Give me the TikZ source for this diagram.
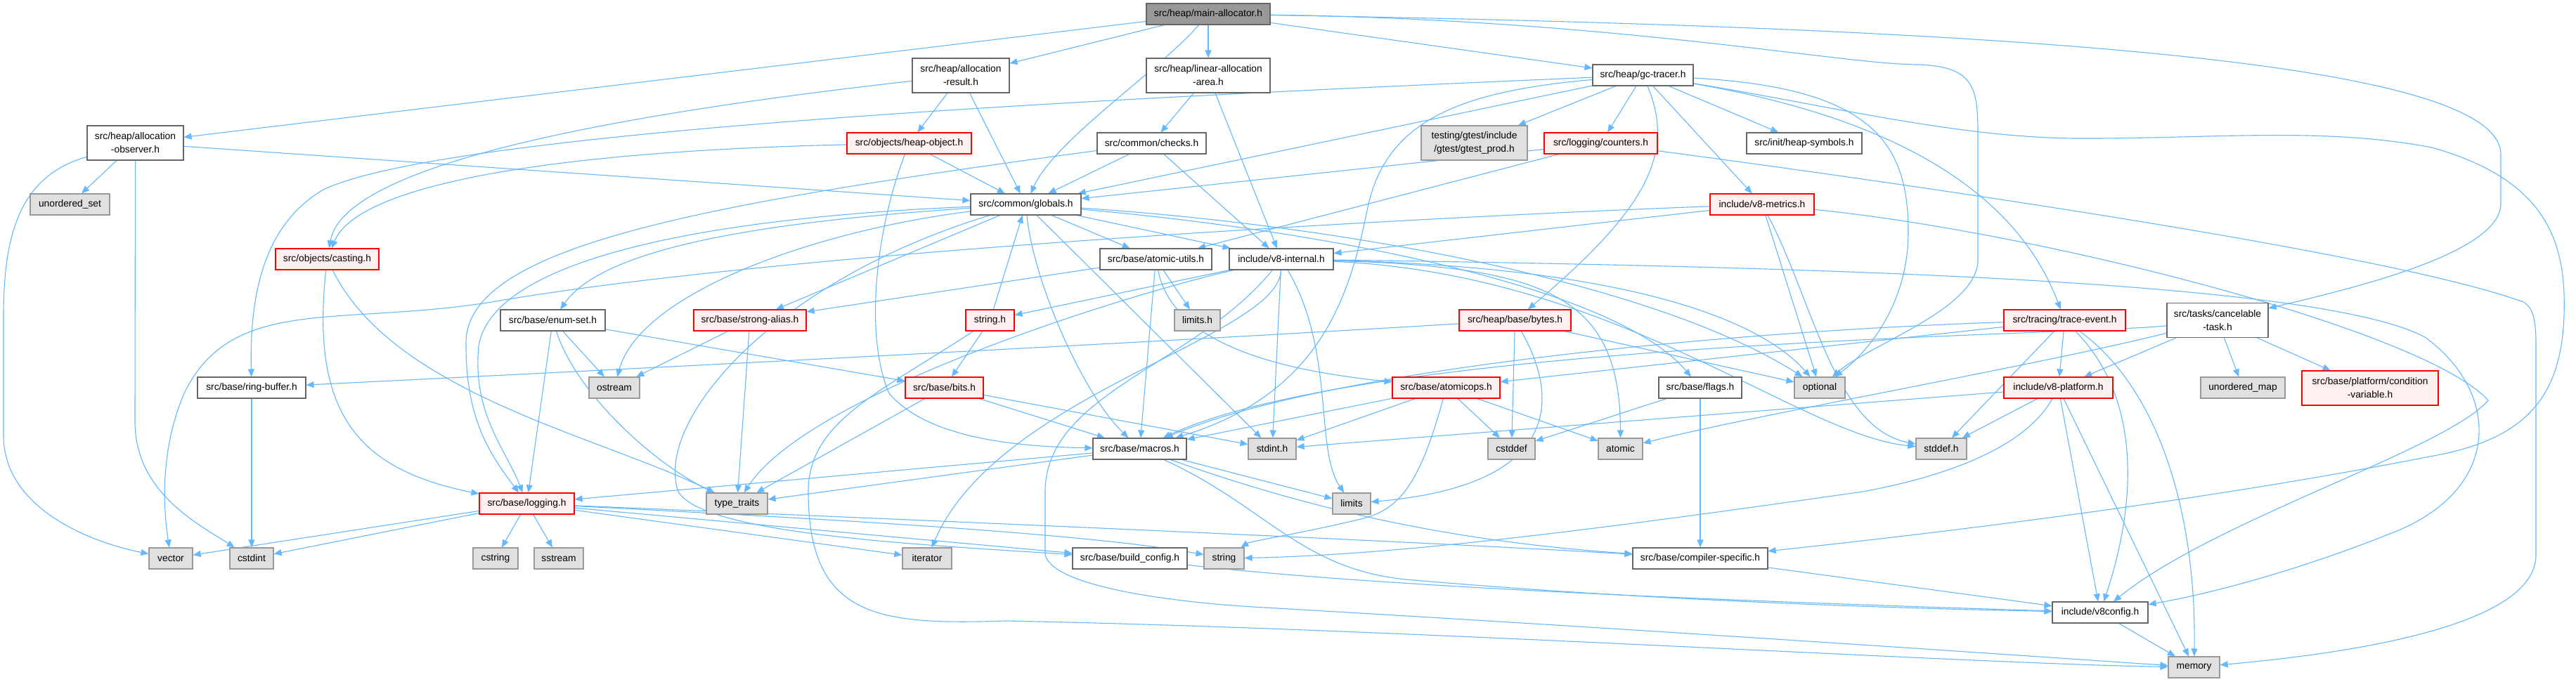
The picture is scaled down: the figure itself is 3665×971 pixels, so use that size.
\documentclass[tikz,border=0pt]{standalone}
\usepackage{fontspec}
\setmainfont{Liberation Sans}
\usetikzlibrary{arrows.meta, backgrounds}
\definecolor{edgeblue}{HTML}{63B8FF}
\definecolor{boxgrey}{HTML}{666666}
\definecolor{sysgrey}{HTML}{999999}
\definecolor{sysfill}{HTML}{E0E0E0}
\definecolor{hdrred}{HTML}{FF0000}
\definecolor{hdrfill}{HTML}{FFF0F0}
\definecolor{mainfill}{HTML}{999999}

\begin{document}
\begin{tikzpicture}[x=1pt, y=-1pt,
  font=\fontsize{13.8pt}{19pt}\selectfont,
  hdr/.style={rectangle, draw=boxgrey, fill=white, line width=1.1pt,
              minimum height=30pt, inner sep=2pt, align=center},
  sys/.style={hdr, draw=sysgrey, fill=sysfill},
  trunc/.style={hdr, draw=hdrred, fill=hdrfill},
  mainhdr/.style={hdr, fill=mainfill},
  twoline/.style={minimum height=49pt},
  dep/.style={-{Triangle[length=11pt,width=9pt]}, draw=edgeblue, line width=1.1pt}
]
\useasboundingbox (0,0) rectangle (3665,971);

% ── root ──
\node[mainhdr, minimum width=176pt] (ma) at (1719,20) {src/heap/main-allocator.h};

% ── upper rows ──
\node[hdr, twoline, minimum width=137pt] (aobs) at (192.5,203.5) {src/heap/allocation\\-observer.h};
\node[sys, minimum width=113pt] (uset) at (99.5,291) {unordered\_set};
\node[hdr, twoline, minimum width=138pt] (ares) at (1367,107.5) {src/heap/allocation\\-result.h};
\node[hdr, twoline, minimum width=176pt] (laa) at (1719,107.5) {src/heap/linear-allocation\\-area.h};
\node[trunc, minimum width=177pt] (hobj) at (1293.5,204) {src/objects/heap-object.h};
\node[hdr, minimum width=155pt] (checks) at (1638.5,204) {src/common/checks.h};
\node[hdr, minimum width=157pt] (glob) at (1459.5,291) {src/common/globals.h};
\node[hdr, minimum width=143pt] (gct) at (2337.5,107) {src/heap/gc-tracer.h};
\node[sys, twoline, minimum width=151pt] (gtest) at (2097.5,203.5) {testing/gtest/include\\/gtest/gtest\_prod.h};
\node[trunc, minimum width=161pt] (cnt) at (2277.5,204) {src/logging/counters.h};
\node[hdr, minimum width=164pt] (hsym) at (2567,204) {src/init/heap-symbols.h};
\node[trunc, minimum width=148pt] (metr) at (2507,291) {include/v8-metrics.h};

% ── middle rows ──
\node[trunc, minimum width=147pt] (cast) at (465.5,369) {src/objects/casting.h};
\node[hdr, minimum width=159pt] (autl) at (1644.5,369) {src/base/atomic-utils.h};
\node[hdr, minimum width=148pt] (v8i) at (1823,369) {include/v8-internal.h};
\node[hdr, minimum width=149pt] (eset) at (786.5,456) {src/base/enum-set.h};
\node[trunc, minimum width=160pt] (salias) at (1067,456) {src/base/strong-alias.h};
\node[trunc, minimum width=69pt] (strh) at (1408.5,456) {string.h};
\node[sys, minimum width=65pt] (limh) at (1703.5,456) {limits.h};
\node[trunc, minimum width=159pt] (bytes) at (2155.5,456) {src/heap/base/bytes.h};
\node[trunc, minimum width=173pt] (trev) at (2937.5,456) {src/tracing/trace-event.h};
\node[hdr, twoline, minimum width=144pt] (ctask) at (3155,456) {src/tasks/cancelable\\-task.h};
\node[hdr, minimum width=154pt] (ring) at (358,552) {src/base/ring-buffer.h};
\node[sys, minimum width=72pt] (ostr) at (874,552) {ostream};
\node[trunc, minimum width=111pt] (bits) at (1343.5,552) {src/base/bits.h};
\node[trunc, minimum width=153pt] (aops) at (2057.5,552) {src/base/atomicops.h};
\node[hdr, minimum width=118pt] (flags) at (2419,552) {src/base/flags.h};
\node[sys, minimum width=72pt] (opt) at (2589,552) {optional};
\node[trunc, minimum width=155pt] (plat) at (2928.5,552) {include/v8-platform.h};
\node[sys, minimum width=120pt] (umap) at (3191,552) {unordered\_map};
\node[trunc, twoline, minimum width=194pt] (cvar) at (3372,552.5) {src/base/platform/condition\\-variable.h};

% ── lower rows ──
\node[hdr, minimum width=133pt] (macr) at (1621.5,639) {src/base/macros.h};
\node[sys, minimum width=68pt] (stdint) at (1810,639) {stdint.h};
\node[sys, minimum width=67pt] (cstddef) at (2150.5,639) {cstddef};
\node[sys, minimum width=63pt] (atom) at (2305.5,639) {atomic};
\node[sys, minimum width=72pt] (stddef) at (2762,639) {stddef.h};
\node[trunc, minimum width=135pt] (log) at (749.5,717) {src/base/logging.h};
\node[sys, minimum width=87pt] (ttr) at (1048.5,717) {type\_traits};
\node[sys, minimum width=54pt] (lims) at (1923,717) {limits};
\node[sys, minimum width=62pt] (vec) at (243,795) {vector};
\node[sys, minimum width=62pt] (cstdint) at (358,795) {cstdint};
\node[sys, minimum width=64pt] (cstr) at (705,795) {cstring};
\node[sys, minimum width=70pt] (sstr) at (795,795) {sstream};
\node[sys, minimum width=70pt] (iter) at (1319,795) {iterator};
\node[hdr, minimum width=163pt] (bcfg) at (1607.5,795) {src/base/build\_config.h};
\node[sys, minimum width=57pt] (str) at (1741.5,795) {string};
\node[hdr, minimum width=192pt] (csp) at (2419,795) {src/base/compiler-specific.h};
\node[hdr, minimum width=136pt] (v8cfg) at (2988,872) {include/v8config.h};
\node[sys, minimum width=73pt] (mem) at (3121.5,950) {memory};

\begin{scope}[on background layer]
\fill[white] (0,0) rectangle (3665,971);

% ── main-allocator.h ──
\draw[dep] (ma) -- (aobs);
\draw[dep] (ma) -- (ares);
\draw[dep] (ma) .. controls (1650,100) and (1500,200) .. (glob);
\draw[dep] (ma) -- (laa);
\draw[dep] (ma) -- (gct);
\draw[dep] (ma) .. controls (2900,40) and (3558,90) .. (3558,220) -- (3558,290)
  .. controls (3558,360) and (3350,410) .. (ctask);
\draw[dep] (ma) .. controls (2300,28) and (2620,92) .. (2730,92)
  .. controls (2814,95) and (2814,130) .. (2814,200) -- (2814,370)
  .. controls (2814,440) and (2660,490) .. (opt);

% ── allocation-observer.h ──
\draw[dep] (aobs) -- (uset);
\draw[dep] (aobs) .. controls (30,250) and (5,330) .. (5,450) -- (5,620)
  .. controls (5,720) and (120,770) .. (vec);
\draw[dep] (aobs) -- (192,600) .. controls (192,700) and (280,745) .. (cstdint);
\draw[dep] (aobs) -- (glob);

% ── allocation-result.h / linear-allocation-area.h ──
\draw[dep] (ares) -- (hobj);
\draw[dep] (ares) -- (glob);
\draw[dep] (ares) .. controls (900,160) and (490,230) .. (cast);
\draw[dep] (laa) -- (checks);
\draw[dep] (laa) -- (v8i);

% ── heap-object.h / checks.h ──
\draw[dep] (hobj) .. controls (800,215) and (510,260) .. (cast);
\draw[dep] (hobj) -- (glob);
\draw[dep] (hobj) .. controls (1245,330) and (1230,480) .. (1265,560)
  .. controls (1320,625) and (1450,636) .. (macr);
\draw[dep] (checks) -- (glob);
\draw[dep] (checks) -- (v8i);
\draw[dep] (checks) .. controls (1000,290) and (665,350) .. (663,487)
  .. controls (662,600) and (700,650) .. (log);

% ── gc-tracer.h ──
\draw[dep] (gct) -- (gtest);
\draw[dep] (gct) -- (cnt);
\draw[dep] (gct) -- (hsym);
\draw[dep] (gct) -- (metr);
\draw[dep] (gct) -- (glob);
\draw[dep] (gct) .. controls (1700,135) and (650,180) .. (460,270)
  .. controls (375,320) and (355,420) .. (ring);
\draw[dep] (gct) .. controls (2385,220) and (2340,300) .. (bytes);
\draw[dep] (gct) .. controls (2650,160) and (2860,250) .. (trev);
\draw[dep] (gct) .. controls (2660,125) and (2715,200) .. (2715,330)
  .. controls (2715,430) and (2660,500) .. (opt);
\draw[dep] (gct) .. controls (2600,150) and (2780,195) .. (2950,197)
  .. controls (3150,198) and (3300,180) .. (3460,210)
  .. controls (3600,250) and (3645,320) .. (3648,420)
  .. controls (3652,560) and (3600,625) .. (3457,650)
  .. controls (3100,720) and (2700,765) .. (csp);
\draw[dep] (gct) .. controls (2080,130) and (1970,170) .. (1945,300)
  .. controls (1920,420) and (1880,560) .. (macr);

% ── counters.h / v8-metrics.h ──
\draw[dep] (cnt) -- (glob);
\draw[dep] (cnt) -- (autl);
\draw[dep] (cnt) .. controls (2700,260) and (3400,360) .. (3590,430)
  .. controls (3604,438) and (3608,455) .. (3608,490) -- (3608,790)
  .. controls (3608,880) and (3400,925) .. (mem);
\draw[dep] (metr) -- (v8i);
\draw[dep] (metr) -- (opt);
\draw[dep] (metr) .. controls (2580,430) and (2610,610) .. (stddef);
\draw[dep] (metr) .. controls (2000,310) and (1100,360) .. (700,430)
  .. controls (480,465) and (330,420) .. (262,560)
  .. controls (228,640) and (232,720) .. (vec);
\draw[dep] (metr) .. controls (2900,330) and (3450,470) .. (3540,570)
  .. controls (3480,640) and (3150,740) .. (v8cfg);

% ── globals.h ──
\draw[dep] (glob) .. controls (1000,310) and (700,370) .. (681,493)
  .. controls (672,590) and (720,640) .. (log);
\draw[dep] (glob) .. controls (1100,315) and (860,350) .. (eset);
\draw[dep] (glob) .. controls (1150,330) and (910,420) .. (ostr);
\draw[dep] (glob) -- (salias);
\draw[dep] (glob) .. controls (1470,400) and (1540,560) .. (macr);
\draw[dep] (glob) -- (autl);
\draw[dep] (glob) -- (v8i);
\draw[dep] (glob) .. controls (1900,320) and (2350,400) .. (opt);
\draw[dep] (glob) .. controls (1900,330) and (2300,410) .. (flags);
\draw[dep] (glob) -- (stdint);
\draw[dep] (glob) .. controls (1100,400) and (930,600) .. (965,700)
  .. controls (1000,760) and (1300,775) .. (bcfg);

% ── atomic-utils.h ──
\draw[dep] (autl) -- (salias);
\draw[dep] (autl) -- (macr);
\draw[dep] (autl) -- (limh);
\draw[dep] (autl) .. controls (1670,500) and (1850,530) .. (aops);

% ── v8-internal.h ──
\draw[dep] (v8i) -- (strh);
\draw[dep] (v8i) .. controls (2300,390) and (2560,620) .. (stddef);
\draw[dep] (v8i) -- (stdint);
\draw[dep] (v8i) .. controls (2200,380) and (2305,420) .. (atom);
\draw[dep] (v8i) .. controls (1820,480) and (1420,560) .. (iter);
\draw[dep] (v8i) .. controls (1900,500) and (1870,640) .. (lims);
\draw[dep] (v8i) .. controls (1700,520) and (1487,560) .. (1487,700) -- (1487,790)
  .. controls (1500,840) and (1700,860) .. (1800,865)
  .. controls (2400,900) and (2900,935) .. (mem);
\draw[dep] (v8i) .. controls (2300,380) and (2500,450) .. (opt);
\draw[dep] (v8i) .. controls (1600,420) and (1150,560) .. (ttr);
\draw[dep] (v8i) .. controls (2600,380) and (3300,400) .. (3450,480)
  .. controls (3560,560) and (3560,700) .. (3400,760)
  .. controls (3250,820) and (3120,850) .. (v8cfg);

% ── enum-set.h / strong-alias.h / string.h / bits.h ──
\draw[dep] (eset) -- (ostr);
\draw[dep] (eset) -- (log);
\draw[dep] (eset) -- (bits);
\draw[dep] (eset) .. controls (820,560) and (930,660) .. (ttr);
\draw[dep] (salias) -- (ostr);
\draw[dep] (salias) -- (ttr);
\draw[dep] (strh) -- (glob);
\draw[dep] (strh) -- (bits);
\draw[dep] (strh) .. controls (1250,560) and (1150,600) .. (1150,700)
  .. controls (1150,880) and (1250,890) .. (1430,884)
  .. controls (2000,895) and (2800,945) .. (mem);
\draw[dep] (bits) -- (macr);
\draw[dep] (bits) -- (stdint);
\draw[dep] (bits) -- (ttr);

% ── atomicops.h / bytes.h / flags.h ──
\draw[dep] (aops) -- (macr);
\draw[dep] (aops) -- (stdint);
\draw[dep] (aops) -- (cstddef);
\draw[dep] (aops) -- (atom);
\draw[dep] (aops) .. controls (2020,690) and (1990,725) .. (1940,738)
  .. controls (1850,760) and (1780,770) .. (str);
\draw[dep] (bytes) -- (cstddef);
\draw[dep] (bytes) .. controls (2215,560) and (2230,690) .. (lims);
\draw[dep] (bytes) -- (opt);
\draw[dep] (bytes) .. controls (1600,490) and (800,530) .. (ring);
\draw[dep] (flags) -- (cstddef);
\draw[dep] (flags) -- (csp);

% ── trace-event.h / cancelable-task.h / v8-platform.h ──
\draw[dep] (trev) -- (plat);
\draw[dep] (trev) -- (stddef);
\draw[dep] (trev) .. controls (3040,560) and (3045,700) .. (v8cfg);
\draw[dep] (trev) .. controls (3080,560) and (3125,750) .. (mem);
\draw[dep] (trev) -- (aops);
\draw[dep] (trev) .. controls (2500,470) and (1900,520) .. (macr);
\draw[dep] (ctask) -- (plat);
\draw[dep] (ctask) -- (umap);
\draw[dep] (ctask) -- (cvar);
\draw[dep] (ctask) .. controls (2900,520) and (2500,590) .. (atom);
\draw[dep] (ctask) .. controls (2950,478) and (1950,485) .. (macr);
\draw[dep] (plat) -- (stddef);
\draw[dep] (plat) -- (stdint);
\draw[dep] (plat) .. controls (2880,640) and (2760,680) .. (2650,700)
  .. controls (2300,750) and (2000,790) .. (str);
\draw[dep] (plat) -- (v8cfg);
\draw[dep] (plat) -- (mem);

% ── logging.h / macros.h ──
\draw[dep] (log) -- (vec);
\draw[dep] (log) -- (cstdint);
\draw[dep] (log) -- (cstr);
\draw[dep] (log) -- (sstr);
\draw[dep] (log) -- (iter);
\draw[dep] (log) -- (bcfg);
\draw[dep] (log) .. controls (1200,740) and (1550,760) .. (str);
\draw[dep] (log) .. controls (1300,740) and (2000,770) .. (csp);
\draw[dep] (macr) -- (log);
\draw[dep] (macr) -- (ttr);
\draw[dep] (macr) -- (lims);
\draw[dep] (macr) .. controls (1850,720) and (2050,770) .. (csp);
\draw[dep] (macr) .. controls (1800,720) and (1850,810) .. (2000,825)
  .. controls (2400,860) and (2800,868) .. (v8cfg);

% ── leaves ──
\draw[dep] (ring) -- (cstdint);
\draw[dep] (cast) .. controls (440,600) and (520,670) .. (log);
\draw[dep] (cast) .. controls (560,560) and (850,620) .. (ttr);
\draw[dep] (bcfg) .. controls (2000,840) and (2600,860) .. (v8cfg);
\draw[dep] (csp) -- (v8cfg);
\draw[dep] (v8cfg) -- (mem);
\end{scope}

\end{tikzpicture}
\end{document}
